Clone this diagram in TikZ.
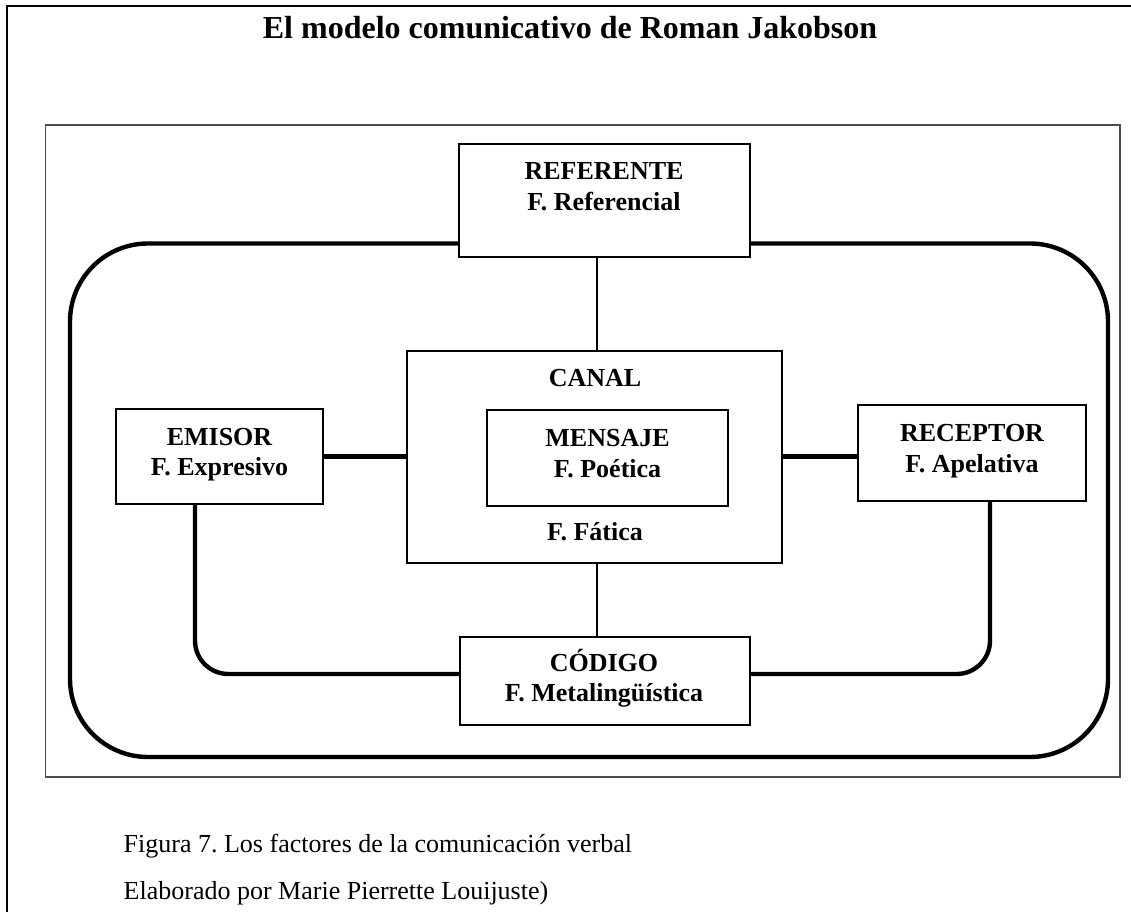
\documentclass[tikz,border=0pt]{standalone}
\usepackage{fontspec}
\setmainfont{Liberation Serif}
\usepackage{tikz}
\usetikzlibrary{
    positioning,
    calc,
    backgrounds
}
\tikzset{
    box/.style={draw, line width=1pt, fill=white, inner sep=0pt},
    boxtext/.style={font=\bfseries\fontsize{19.5}{23}\selectfont, align=center},
    bond/.style={line width=3.3pt},
    link/.style={line width=1pt}
}
\frenchspacing

\begin{document}
\begin{tikzpicture}[x=0.75pt,y=-0.75pt]
    \useasboundingbox (0,0) rectangle (1131,912);

    % Page frame and figure frame
    \draw[line width=1.3pt] (7,912) -- (7,5.7) -- (1131,5.7);
    \draw[gray!60!black, line width=0.8pt] (45.5,125) rectangle (1120,777);

    % Title
    \node[font=\bfseries\fontsize{24}{28}\selectfont, anchor=base] (titulo) at (570,39)
        {El modelo comunicativo de Roman Jakobson};

    % Factors
    \node[box, minimum width=218.25pt, minimum height=84.75pt] (referente) at (604.5,200.5) {};
    \node[box, minimum width=281.25pt, minimum height=159pt] (canal) at (594.5,457) {};
    \node[box, minimum width=180.75pt, minimum height=72pt] (mensaje) at (607.5,458) {};
    \node[box, minimum width=155.25pt, minimum height=71.25pt] (emisor) at (219.5,456.5) {};
    \node[box, minimum width=171pt, minimum height=72pt] (receptor) at (972,453) {};
    \node[box, minimum width=217.5pt, minimum height=66pt] (codigo) at (605,681) {};

    % Labels
    \node[boxtext] (referente-t) at (604,187) {REFERENTE\\F. Referencial};
    \node[boxtext, anchor=base] (canal-t) at (595,387) {CANAL};
    \node[boxtext] (mensaje-t) at (607.5,453.5) {MENSAJE\\F. Poética};
    \node[boxtext, anchor=base] (canal-f) at (595,540) {F. Fática};
    \node[boxtext] (emisor-t) at (219.5,454.8) {EMISOR\\F. Expresivo};
    \node[boxtext] (receptor-t) at (972,451.3) {RECEPTOR\\F. Apelativa};
    \node[boxtext] (codigo-t) at (604,678.3) {CÓDIGO\\F. Metalingüística};

    % Connections
    \begin{scope}[on background layer]
        \draw[bond, rounded corners=58.5pt] (70,243.5) rectangle (1108,757);
        \draw[bond, rounded corners=25pt]
            ([shift={(-24.5,0)}]emisor.south) |- ([shift={(0,-7)}]codigo.center)
            -| ([shift={(18,0)}]receptor.south);
        \draw[bond] (emisor.east) -- (emisor.east -| canal.west);
        \draw[bond] (canal.east |- emisor.east) -- (receptor.west |- emisor.east);
        \draw[link] ([shift={(2.5,0)}]canal.north) -- ([shift={(2.5,0)}]canal.north |- referente.south);
        \draw[link] ([shift={(2.5,0)}]canal.south) -- ([shift={(2.5,0)}]canal.south |- codigo.north);
    \end{scope}

    % Caption
    \node[font=\fontsize{19.5}{23}\selectfont, anchor=base west] (pie1) at (119,852)
        {Figura 7. Los factores de la comunicación verbal};
    \node[font=\fontsize{19.5}{23}\selectfont, anchor=base west] (pie2) at (119,899)
        {Elaborado por Marie Pierrette Louijuste)};
\end{tikzpicture}
\end{document}
